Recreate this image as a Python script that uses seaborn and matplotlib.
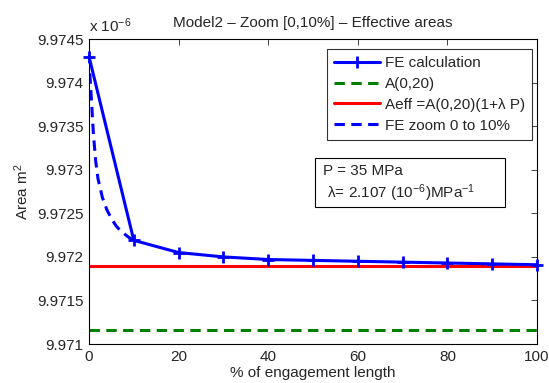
import numpy as np
import pandas as pd
import matplotlib
matplotlib.use("Agg")
import matplotlib.pyplot as plt
from matplotlib.patches import Rectangle
import seaborn as sns

# engagement length (%) and effective areas (x 1e-6 m^2)
fe_x = [0, 10, 20, 30, 40, 50, 60, 70, 80, 90, 100]
fe_area = [9.97430, 9.97219, 9.97205, 9.97200, 9.97197, 9.97196,
           9.97195, 9.97194, 9.97193, 9.97192, 9.97191]

zoom_x = [0, 0.25, 0.5, 1, 1.5, 2, 3, 4, 5, 6, 7, 8, 9, 10]
zoom_area = [9.97430, 9.97405, 9.97384, 9.97340, 9.97310, 9.97290, 9.97268,
             9.97254, 9.97244, 9.97236, 9.97230, 9.97226, 9.97222, 9.97219]

line_x = [0, 100]
a020 = [9.97116, 9.97116]
aeff = [9.97190, 9.97190]

sns.set_style("white")
plt.rcParams['font.family'] = ['Liberation Sans', 'DejaVu Sans']
plt.rcParams['mathtext.fontset'] = 'custom'
plt.rcParams['mathtext.rm'] = 'Liberation Sans'
plt.rcParams['mathtext.it'] = 'Liberation Sans:italic'
plt.rcParams['mathtext.default'] = 'regular'

fig = plt.figure(figsize=(5.49, 3.83), dpi=100)
ax = fig.add_axes([0.1621, 0.1018, 0.816, 0.796])

fe = pd.DataFrame({"x": fe_x, "area": fe_area})
zm = pd.DataFrame({"x": zoom_x, "area": zoom_area})
ln = pd.DataFrame({"x": line_x, "a020": a020, "aeff": aeff})

blue = "#0000ff"
dash = (0, (3.4, 2.1))
sns.lineplot(data=fe, x="x", y="area", ax=ax, color=blue, lw=2.2,
             marker="+", markersize=9, markeredgewidth=2,
             markeredgecolor=blue, clip_on=False, zorder=4,
             label="FE calculation")
sns.lineplot(data=ln, x="x", y="a020", ax=ax, color="#007f00", lw=2.2,
             linestyle=dash, label="A(0,20)")
sns.lineplot(data=ln, x="x", y="aeff", ax=ax, color="#ff0000", lw=2.2,
             label="Aeff =A(0,20)(1+λ P)")
sns.lineplot(data=zm, x="x", y="area", ax=ax, color=blue, lw=2.2,
             linestyle=dash, label="FE zoom 0 to 10%")

ax.set_xlim(0, 100)
ax.set_ylim(9.971, 9.9745)
ax.set_xticks(np.arange(0, 101, 20))
ax.set_yticks([9.971, 9.9715, 9.972, 9.9725, 9.973, 9.9735, 9.974, 9.9745])
ax.set_yticklabels(["9.971", "9.9715", "9.972", "9.9725", "9.973",
                    "9.9735", "9.974", "9.9745"])
ax.tick_params(direction="in", top=True, right=True, labelsize=11,
               length=4, width=0.6, pad=4)
for s in ax.spines.values():
    s.set_linewidth(0.8)
    s.set_color("black")

ax.set_xlabel("% of engagement length", fontsize=11, labelpad=2)
ax.set_ylabel("Area m$^2$", fontsize=11, labelpad=4)
ax.set_title("Model2 \u2013 Zoom [0,10%] \u2013 Effective areas", fontsize=11, pad=9)
ax.text(0.0, 1.012, "x 10$^{-6}$", transform=ax.transAxes, fontsize=11,
        ha="left", va="bottom")

leg = ax.legend(loc="upper right", bbox_to_anchor=(0.989, 0.967),
                borderaxespad=0, fontsize=11, handlelength=3.0,
                frameon=True, fancybox=False, edgecolor="black",
                borderpad=0.45, labelspacing=0.45, handletextpad=0.35)
leg.get_frame().set_linewidth(0.8)

# parameter box
ax.add_patch(Rectangle((0.5045, 0.449), 0.424, 0.161, transform=ax.transAxes,
                       fill=True, fc="white", ec="black", lw=0.8, zorder=5))
ax.text(0.522, 0.567, "P = 35 MPa", transform=ax.transAxes, fontsize=11,
        va="center", ha="left", zorder=6)
ax.text(0.522, 0.495, " \u03bb= 2.107 (10$^{-6}$)MPa$^{-1}$",
        transform=ax.transAxes, fontsize=11, va="center", ha="left", zorder=6)

fig.savefig("out.png", dpi=100)
